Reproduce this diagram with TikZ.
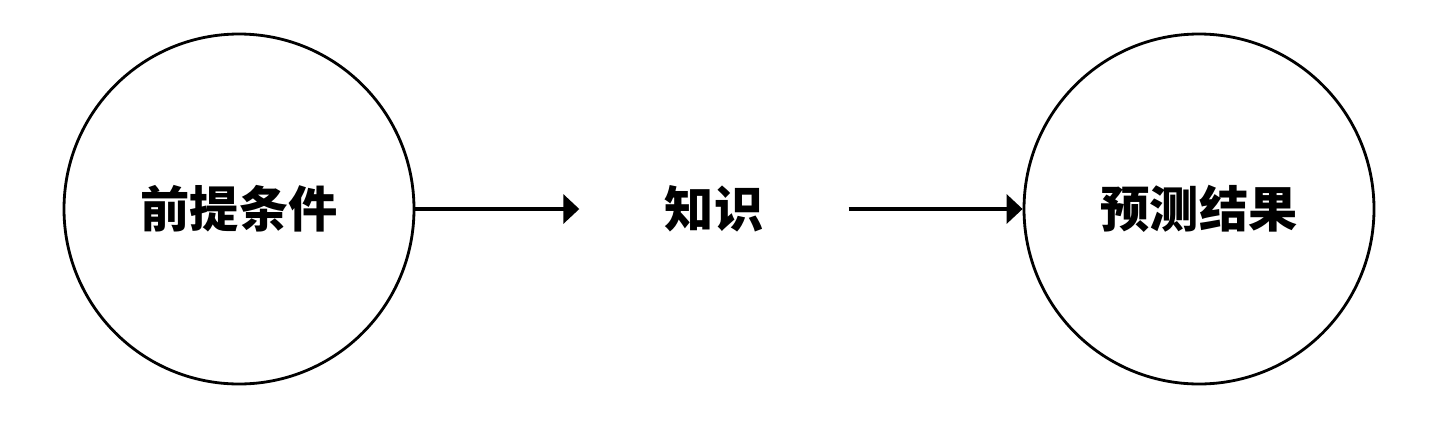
\documentclass[tikz,border=0pt]{standalone}
\usepackage{fontspec}
\newfontfamily\cjk{Noto Sans CJK SC}
\usetikzlibrary{positioning, arrows.meta}

\tikzset{
	circ/.style={circle, draw, line width=0.8pt, minimum size=3.5cm, inner sep=0pt},
	lbl/.style={font=\cjk\bfseries\fontsize{14}{16}\selectfont},
	conn/.style={line width=1pt, -{Triangle[length=1.6mm, width=2.9mm]}}
}

\begin{document}
\begin{tikzpicture}
	\useasboundingbox (0,0) rectangle (14.44,-4.24);

	\node(qt) [circ, lbl] at (2.39,-2.09) {前提条件};
	\node(zs) [lbl, right of=qt, node distance=4.75cm, minimum width=2.68cm] {知识};
	\node(yc) [circ, lbl, right of=zs, node distance=4.85cm] {预测结果};

	\draw[conn] (qt) -- (zs);
	\draw[conn] (zs) -- (yc);

\end{tikzpicture}
\end{document}
